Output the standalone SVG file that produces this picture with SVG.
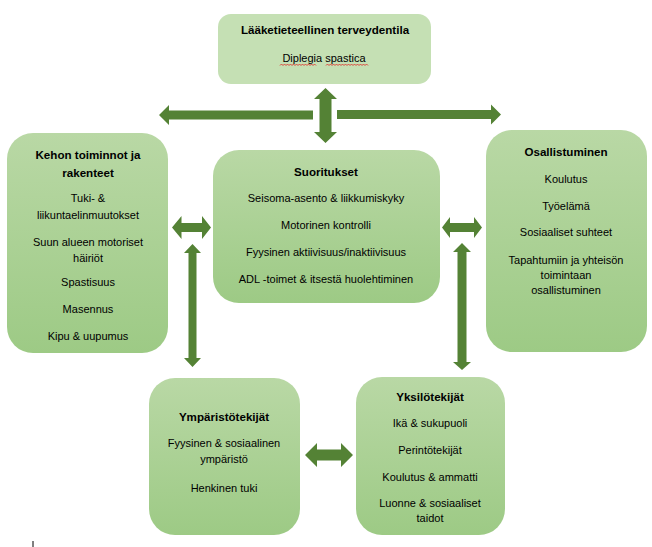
<svg xmlns="http://www.w3.org/2000/svg" width="652" height="547" viewBox="0 0 652 547">
<defs>
<linearGradient id="g" x1="0" y1="0" x2="0" y2="1">
<stop offset="0" stop-color="#b9d8a5"/>
<stop offset="1" stop-color="#9dca85"/>
</linearGradient>
<style>
text{font-family:"Liberation Sans",Arial,sans-serif;font-size:11px;fill:#000;text-anchor:middle}
.b{font-weight:bold;font-size:11.6px}
.box{fill:url(#g)}
.arr{fill:#548235}
</style>
</defs>
<rect width="652" height="547" fill="#fff"/>
<g id="laaketieteellinen">
<rect x="218" y="14" width="213" height="70" rx="13" fill="#c5e0b4"/>
<text class="b" x="325" y="34">Lääketieteellinen terveydentila</text>
<text x="324" y="62">Diplegia spastica</text>
<path d="M280 65.5 l1.5 -1.5 l1.5 1.5 l1.5 -1.5 l1.5 1.5 l1.5 -1.5 l1.5 1.5 l1.5 -1.5 l1.5 1.5 l1.5 -1.5 l1.5 1.5 l1.5 -1.5 l1.5 1.5 l1.5 -1.5 l1.5 1.5 l1.5 -1.5 l1.5 1.5 l1.5 -1.5 l1.5 1.5 l1.5 -1.5 l1.5 1.5 l1.5 -1.5 l1.5 1.5 l1.5 -1.5 l1.5 1.5" fill="none" stroke="#e02020" stroke-width="0.8"/>
<path d="M326 65.5 l1.5 -1.5 l1.5 1.5 l1.5 -1.5 l1.5 1.5 l1.5 -1.5 l1.5 1.5 l1.5 -1.5 l1.5 1.5 l1.5 -1.5 l1.5 1.5 l1.5 -1.5 l1.5 1.5 l1.5 -1.5 l1.5 1.5 l1.5 -1.5 l1.5 1.5 l1.5 -1.5 l1.5 1.5 l1.5 -1.5 l1.5 1.5 l1.5 -1.5 l1.5 1.5 l1.5 -1.5 l1.5 1.5 l1.5 -1.5 l1.5 1.5 l1.5 -1.5 l1.5 1.5" fill="none" stroke="#e02020" stroke-width="0.8"/>
</g>
<g id="kehon">
<rect class="box" x="7" y="133" width="161" height="220" rx="26"/>
<text class="b" x="88" y="159">Kehon toiminnot ja</text>
<text class="b" x="88" y="177">rakenteet</text>
<text x="88" y="202">Tuki- &amp;</text>
<text x="88" y="219">liikuntaelinmuutokset</text>
<text x="88" y="246">Suun alueen motoriset</text>
<text x="88" y="262">häiriöt</text>
<text x="88" y="286">Spastisuus</text>
<text x="88" y="313">Masennus</text>
<text x="88" y="340">Kipu &amp; uupumus</text>
</g>
<g id="suoritukset">
<rect class="box" x="213" y="150" width="227" height="153" rx="26"/>
<text class="b" x="326" y="176">Suoritukset</text>
<text x="326" y="202">Seisoma-asento &amp; liikkumiskyky</text>
<text x="326" y="229">Motorinen kontrolli</text>
<text x="326" y="256">Fyysinen aktiivisuus/inaktiivisuus</text>
<text x="326" y="283">ADL -toimet &amp; itsestä huolehtiminen</text>
</g>
<g id="osallistuminen">
<rect class="box" x="486" y="130" width="161" height="222" rx="26"/>
<text class="b" x="566" y="156">Osallistuminen</text>
<text x="566" y="183">Koulutus</text>
<text x="566" y="210">Työelämä</text>
<text x="566" y="236">Sosiaaliset suhteet</text>
<text x="566" y="264">Tapahtumiin ja yhteisön</text>
<text x="566" y="279">toimintaan</text>
<text x="566" y="294">osallistuminen</text>
</g>
<g id="ymparistotekijat">
<rect class="box" x="149" y="378" width="151" height="157" rx="26"/>
<text class="b" x="224" y="421">Ympäristötekijät</text>
<text x="224" y="447">Fyysinen &amp; sosiaalinen</text>
<text x="224" y="463">ympäristö</text>
<text x="224" y="492">Henkinen tuki</text>
</g>
<g id="yksilotekijat">
<rect class="box" x="356" y="377" width="149" height="158" rx="26"/>
<text class="b" x="430" y="401">Yksilötekijät</text>
<text x="430" y="427">Ikä &amp; sukupuoli</text>
<text x="430" y="454">Perintötekijät</text>
<text x="430" y="481">Koulutus &amp; ammatti</text>
<text x="430" y="507">Luonne &amp; sosiaaliset</text>
<text x="430" y="522">taidot</text>
</g>
<g id="connectors">
<polygon class="arr" points="159,115 169,105 169,110.5 313,110.5 313,119.5 169,119.5 169,125"/>
<polygon class="arr" points="501,114.5 491,104.5 491,110 337,110 337,119 491,119 491,124.5"/>
<polygon class="arr" points="325.5,88 337,99 331.5,99 331.5,132 337,132 325.5,143 314,132 319.5,132 319.5,99 314,99"/>
<polygon class="arr" points="172,227.5 181.5,216 181.5,223 202,223 202,216 211,227.5 202,239 202,232 181.5,232 181.5,239"/>
<polygon class="arr" points="192.5,244 201,253 196.5,253 196.5,358 201,358 192.5,367 184,358 188.5,358 188.5,253 184,253"/>
<polygon class="arr" points="442,227.5 450,217 450,223 474,223 474,217 482,227.5 474,238 474,232 450,232 450,238"/>
<polygon class="arr" points="462,243 471,252 466.5,252 466.5,362 471,362 462,370 453,362 457.5,362 457.5,252 453,252"/>
<polygon class="arr" points="305,455 317,443 317,449.5 341,449.5 341,443 353,455 341,467 341,460.5 317,460.5 317,467"/>
</g>
<line x1="33" y1="541" x2="33" y2="547" stroke="#000" stroke-width="1"/>
</svg>
